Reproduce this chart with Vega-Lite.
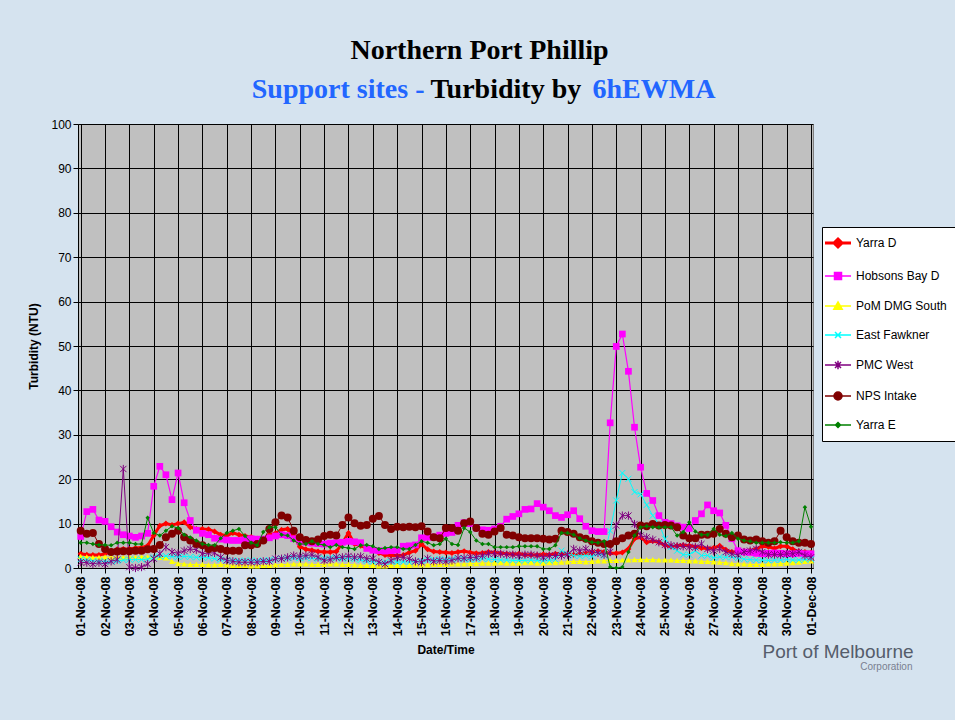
{
  "$schema": "https://vega.github.io/schema/vega-lite/v6.json",
  "autosize": "none",
  "width": 735,
  "height": 444,
  "padding": {"left": 78, "top": 124, "right": 142, "bottom": 152},
  "background": "#d5e3ef",
  "config": {
    "view": {"fill": "#c0c0c0", "stroke": "#808080", "strokeWidth": 1},
    "axis": {"labelFont": "Liberation Sans", "titleFont": "Liberation Sans", "labelColor": "black", "titleColor": "black"}
  },
  "data": {"values": [
    {"t":0,"yd":3.2,"hb":7.1,"pm":2.6,"ef":2.0,"pw":1.3,"np":8.4,"ye":5.7},
    {"t":0.25,"yd":3.0,"hb":12.7,"pm":2.5,"ef":1.8,"pw":1.2,"np":7.7,"ye":5.7},
    {"t":0.5,"yd":2.9,"hb":13.2,"pm":2.4,"ef":1.6,"pw":0.9,"np":7.9,"ye":5.4},
    {"t":0.75,"yd":2.9,"hb":10.8,"pm":2.4,"ef":1.5,"pw":1.2,"np":5.4,"ye":5.2},
    {"t":1,"yd":3.2,"hb":10.5,"pm":2.5,"ef":1.5,"pw":0.9,"np":4.3,"ye":5.2},
    {"t":1.25,"yd":3.8,"hb":9.3,"pm":2.4,"ef":1.5,"pw":1.5,"np":3.6,"ye":5.1},
    {"t":1.5,"yd":4.2,"hb":8.1,"pm":2.5,"ef":1.6,"pw":1.9,"np":3.7,"ye":5.7},
    {"t":1.75,"yd":4.3,"hb":7.5,"pm":2.4,"ef":1.8,"pw":22.3,"np":3.8,"ye":5.7},
    {"t":2,"yd":4.3,"hb":7.2,"pm":2.5,"ef":1.9,"pw":0.2,"np":3.8,"ye":5.7},
    {"t":2.25,"yd":4.5,"hb":6.9,"pm":2.4,"ef":1.9,"pw":0.0,"np":3.9,"ye":5.4},
    {"t":2.5,"yd":4.6,"hb":7.2,"pm":2.5,"ef":1.9,"pw":0.2,"np":3.9,"ye":5.4},
    {"t":2.75,"yd":5.0,"hb":7.8,"pm":2.5,"ef":2.0,"pw":0.9,"np":4.2,"ye":11.3},
    {"t":3,"yd":7.3,"hb":18.4,"pm":2.4,"ef":2.4,"pw":2.1,"np":4.3,"ye":7.9},
    {"t":3.25,"yd":9.5,"hb":22.9,"pm":2.4,"ef":2.6,"pw":3.2,"np":5.2,"ye":7.3},
    {"t":3.5,"yd":10.0,"hb":21.0,"pm":2.3,"ef":2.7,"pw":4.7,"np":6.9,"ye":8.4},
    {"t":3.75,"yd":9.7,"hb":15.4,"pm":1.5,"ef":2.6,"pw":3.6,"np":7.7,"ye":9.4},
    {"t":4,"yd":10.0,"hb":21.4,"pm":1.0,"ef":2.5,"pw":3.3,"np":8.4,"ye":9.0},
    {"t":4.25,"yd":10.3,"hb":14.7,"pm":0.9,"ef":2.6,"pw":3.9,"np":6.9,"ye":7.5},
    {"t":4.5,"yd":9.2,"hb":10.7,"pm":0.8,"ef":2.5,"pw":4.3,"np":6.2,"ye":6.9},
    {"t":4.75,"yd":8.8,"hb":8.5,"pm":0.8,"ef":2.4,"pw":4.1,"np":5.4,"ye":6.2},
    {"t":5,"yd":8.8,"hb":7.8,"pm":0.8,"ef":2.4,"pw":3.2,"np":5.1,"ye":5.4},
    {"t":5.25,"yd":8.7,"hb":7.5,"pm":0.7,"ef":2.3,"pw":3.4,"np":4.3,"ye":5.2},
    {"t":5.5,"yd":8.2,"hb":6.7,"pm":0.7,"ef":2.1,"pw":3.4,"np":4.5,"ye":5.1},
    {"t":5.75,"yd":7.5,"hb":6.5,"pm":0.8,"ef":1.9,"pw":2.4,"np":4.3,"ye":6.7},
    {"t":6,"yd":7.3,"hb":6.3,"pm":0.7,"ef":1.7,"pw":1.7,"np":3.9,"ye":7.9},
    {"t":6.25,"yd":7.9,"hb":6.2,"pm":0.6,"ef":1.7,"pw":1.5,"np":3.9,"ye":8.4},
    {"t":6.5,"yd":7.5,"hb":6.2,"pm":0.6,"ef":1.6,"pw":1.3,"np":3.9,"ye":8.8},
    {"t":6.75,"yd":7.2,"hb":6.4,"pm":0.6,"ef":1.7,"pw":1.3,"np":5.1,"ye":7.2},
    {"t":7,"yd":7.0,"hb":6.6,"pm":0.5,"ef":1.7,"pw":1.3,"np":5.1,"ye":5.7},
    {"t":7.25,"yd":6.6,"hb":6.5,"pm":0.5,"ef":1.6,"pw":1.3,"np":5.4,"ye":5.1},
    {"t":7.5,"yd":6.5,"hb":6.5,"pm":0.6,"ef":1.7,"pw":1.5,"np":6.2,"ye":8.1},
    {"t":7.75,"yd":7.5,"hb":6.8,"pm":0.6,"ef":1.8,"pw":1.5,"np":8.8,"ye":9.2},
    {"t":8,"yd":7.8,"hb":7.2,"pm":0.7,"ef":2.0,"pw":2.1,"np":10.3,"ye":9.2},
    {"t":8.25,"yd":8.6,"hb":7.5,"pm":0.8,"ef":2.2,"pw":2.1,"np":11.8,"ye":7.5},
    {"t":8.5,"yd":8.8,"hb":7.3,"pm":0.8,"ef":2.2,"pw":2.4,"np":11.4,"ye":7.3},
    {"t":8.75,"yd":7.3,"hb":6.6,"pm":0.9,"ef":2.3,"pw":2.8,"np":8.4,"ye":6.2},
    {"t":9,"yd":4.8,"hb":6.0,"pm":0.9,"ef":2.2,"pw":2.6,"np":6.9,"ye":5.4},
    {"t":9.25,"yd":4.2,"hb":5.8,"pm":0.9,"ef":2.3,"pw":2.8,"np":6.3,"ye":5.4},
    {"t":9.5,"yd":4.0,"hb":5.6,"pm":0.8,"ef":2.2,"pw":3.0,"np":6.0,"ye":6.0},
    {"t":9.75,"yd":3.7,"hb":5.5,"pm":0.8,"ef":2.1,"pw":2.4,"np":6.4,"ye":5.4},
    {"t":10,"yd":3.6,"hb":5.4,"pm":0.8,"ef":2.2,"pw":1.7,"np":7.2,"ye":5.2},
    {"t":10.25,"yd":3.6,"hb":5.6,"pm":0.9,"ef":2.3,"pw":1.9,"np":7.5,"ye":4.7},
    {"t":10.5,"yd":3.7,"hb":5.7,"pm":0.9,"ef":2.2,"pw":2.4,"np":7.3,"ye":5.2},
    {"t":10.75,"yd":5.6,"hb":5.8,"pm":0.8,"ef":2.1,"pw":2.4,"np":9.7,"ye":4.7},
    {"t":11,"yd":7.9,"hb":6.0,"pm":0.8,"ef":2.2,"pw":2.7,"np":11.4,"ye":4.5},
    {"t":11.25,"yd":5.4,"hb":5.9,"pm":0.7,"ef":2.0,"pw":2.4,"np":10.1,"ye":4.3},
    {"t":11.5,"yd":5.0,"hb":5.7,"pm":0.6,"ef":1.8,"pw":2.6,"np":9.5,"ye":5.1},
    {"t":11.75,"yd":4.5,"hb":4.4,"pm":0.6,"ef":1.6,"pw":2.1,"np":9.7,"ye":5.2},
    {"t":12,"yd":4.2,"hb":4.0,"pm":0.6,"ef":1.4,"pw":2.1,"np":11.1,"ye":4.9},
    {"t":12.25,"yd":3.4,"hb":3.9,"pm":0.5,"ef":1.3,"pw":1.3,"np":11.7,"ye":4.3},
    {"t":12.5,"yd":2.9,"hb":3.8,"pm":0.5,"ef":1.3,"pw":0.9,"np":9.7,"ye":4.5},
    {"t":12.75,"yd":2.8,"hb":3.9,"pm":0.6,"ef":1.4,"pw":1.7,"np":8.8,"ye":4.7},
    {"t":13,"yd":2.8,"hb":4.0,"pm":0.6,"ef":1.3,"pw":2.4,"np":9.3,"ye":4.7},
    {"t":13.25,"yd":2.9,"hb":4.9,"pm":0.6,"ef":1.4,"pw":2.4,"np":9.2,"ye":4.3},
    {"t":13.5,"yd":3.5,"hb":5.0,"pm":0.6,"ef":1.3,"pw":2.1,"np":9.3,"ye":4.3},
    {"t":13.75,"yd":3.9,"hb":5.2,"pm":0.7,"ef":1.5,"pw":1.5,"np":9.2,"ye":5.2},
    {"t":14,"yd":5.4,"hb":6.8,"pm":0.7,"ef":1.6,"pw":1.3,"np":9.4,"ye":6.0},
    {"t":14.25,"yd":4.2,"hb":6.9,"pm":0.7,"ef":1.8,"pw":2.1,"np":8.2,"ye":5.7},
    {"t":14.5,"yd":3.7,"hb":7.0,"pm":0.8,"ef":1.9,"pw":1.5,"np":6.9,"ye":5.1},
    {"t":14.75,"yd":3.6,"hb":7.4,"pm":0.8,"ef":2.0,"pw":1.7,"np":6.7,"ye":5.4},
    {"t":15,"yd":3.5,"hb":7.8,"pm":0.8,"ef":1.9,"pw":1.5,"np":9.0,"ye":6.6},
    {"t":15.25,"yd":3.4,"hb":8.0,"pm":0.9,"ef":2.0,"pw":1.7,"np":9.0,"ye":5.4},
    {"t":15.5,"yd":3.6,"hb":9.6,"pm":0.9,"ef":2.1,"pw":2.2,"np":8.4,"ye":5.2},
    {"t":15.75,"yd":3.8,"hb":10.2,"pm":0.9,"ef":2.0,"pw":2.2,"np":10.1,"ye":9.0},
    {"t":16,"yd":3.5,"hb":10.0,"pm":1.0,"ef":1.9,"pw":2.4,"np":10.5,"ye":8.1},
    {"t":16.25,"yd":3.3,"hb":9.0,"pm":1.0,"ef":2.0,"pw":2.4,"np":9.0,"ye":6.2},
    {"t":16.5,"yd":3.4,"hb":8.6,"pm":1.1,"ef":2.1,"pw":2.8,"np":7.7,"ye":5.4},
    {"t":16.75,"yd":3.6,"hb":8.5,"pm":1.1,"ef":2.0,"pw":3.2,"np":7.5,"ye":5.4},
    {"t":17,"yd":3.5,"hb":8.8,"pm":1.1,"ef":1.9,"pw":3.2,"np":8.2,"ye":4.7},
    {"t":17.25,"yd":3.3,"hb":9.4,"pm":1.2,"ef":1.8,"pw":3.2,"np":9.0,"ye":4.7},
    {"t":17.5,"yd":3.2,"hb":11.0,"pm":1.1,"ef":1.8,"pw":3.0,"np":7.5,"ye":4.7},
    {"t":17.75,"yd":3.1,"hb":11.6,"pm":1.1,"ef":1.7,"pw":3.0,"np":7.3,"ye":4.7},
    {"t":18,"yd":3.2,"hb":12.2,"pm":1.1,"ef":1.7,"pw":2.8,"np":6.9,"ye":4.9},
    {"t":18.25,"yd":3.0,"hb":13.2,"pm":1.2,"ef":1.7,"pw":3.0,"np":6.7,"ye":4.9},
    {"t":18.5,"yd":3.0,"hb":13.3,"pm":1.2,"ef":1.8,"pw":3.0,"np":6.7,"ye":4.9},
    {"t":18.75,"yd":2.9,"hb":14.5,"pm":1.1,"ef":1.7,"pw":2.8,"np":6.7,"ye":4.9},
    {"t":19,"yd":3.1,"hb":13.7,"pm":1.1,"ef":1.6,"pw":2.4,"np":6.6,"ye":4.3},
    {"t":19.25,"yd":3.0,"hb":12.9,"pm":1.2,"ef":1.7,"pw":2.8,"np":6.4,"ye":4.3},
    {"t":19.5,"yd":3.2,"hb":11.8,"pm":1.2,"ef":1.9,"pw":2.8,"np":6.6,"ye":5.1},
    {"t":19.75,"yd":3.3,"hb":11.4,"pm":1.3,"ef":3.9,"pw":2.8,"np":8.4,"ye":7.9},
    {"t":20,"yd":3.2,"hb":12.0,"pm":1.4,"ef":3.2,"pw":3.0,"np":8.1,"ye":7.9},
    {"t":20.25,"yd":3.0,"hb":12.9,"pm":1.5,"ef":2.8,"pw":4.3,"np":7.7,"ye":7.5},
    {"t":20.5,"yd":3.1,"hb":11.1,"pm":1.5,"ef":2.7,"pw":3.9,"np":6.9,"ye":6.7},
    {"t":20.75,"yd":3.3,"hb":9.4,"pm":1.4,"ef":2.8,"pw":4.3,"np":6.6,"ye":6.2},
    {"t":21,"yd":3.5,"hb":8.4,"pm":1.5,"ef":2.6,"pw":3.6,"np":6.0,"ye":5.8},
    {"t":21.25,"yd":3.8,"hb":8.2,"pm":1.6,"ef":3.2,"pw":3.4,"np":5.7,"ye":5.7},
    {"t":21.5,"yd":3.6,"hb":8.2,"pm":1.6,"ef":2.8,"pw":3.0,"np":5.4,"ye":6.0},
    {"t":21.75,"yd":3.3,"hb":32.7,"pm":1.7,"ef":8.4,"pw":3.6,"np":5.4,"ye":0.2},
    {"t":22,"yd":3.3,"hb":49.9,"pm":1.7,"ef":15.2,"pw":9.6,"np":6.0,"ye":0.0},
    {"t":22.25,"yd":3.5,"hb":52.7,"pm":1.8,"ef":21.4,"pw":11.8,"np":6.7,"ye":0.2},
    {"t":22.5,"yd":4.3,"hb":44.3,"pm":1.8,"ef":20.1,"pw":11.8,"np":7.3,"ye":3.6},
    {"t":22.75,"yd":6.6,"hb":31.7,"pm":1.9,"ef":17.1,"pw":9.9,"np":7.7,"ye":7.3},
    {"t":23,"yd":6.9,"hb":22.7,"pm":1.9,"ef":16.6,"pw":7.3,"np":9.6,"ye":9.2},
    {"t":23.25,"yd":5.8,"hb":16.8,"pm":1.9,"ef":14.2,"pw":6.9,"np":9.4,"ye":9.4},
    {"t":23.5,"yd":6.1,"hb":15.2,"pm":1.9,"ef":11.8,"pw":6.4,"np":9.9,"ye":9.2},
    {"t":23.75,"yd":5.8,"hb":11.8,"pm":1.8,"ef":10.0,"pw":5.8,"np":9.6,"ye":9.2},
    {"t":24,"yd":5.1,"hb":10.3,"pm":1.8,"ef":6.6,"pw":5.2,"np":9.7,"ye":9.2},
    {"t":24.25,"yd":4.9,"hb":10.0,"pm":1.8,"ef":4.7,"pw":5.1,"np":9.6,"ye":9.2},
    {"t":24.5,"yd":5.0,"hb":9.5,"pm":1.7,"ef":3.9,"pw":4.9,"np":9.2,"ye":7.3},
    {"t":24.75,"yd":5.1,"hb":9.2,"pm":1.7,"ef":3.0,"pw":4.9,"np":7.3,"ye":8.1},
    {"t":25,"yd":5.0,"hb":8.9,"pm":1.6,"ef":3.0,"pw":4.7,"np":6.7,"ye":10.3},
    {"t":25.25,"yd":4.8,"hb":10.7,"pm":1.6,"ef":3.9,"pw":4.7,"np":6.7,"ye":8.2},
    {"t":25.5,"yd":4.5,"hb":12.2,"pm":1.5,"ef":2.8,"pw":5.4,"np":7.5,"ye":7.5},
    {"t":25.75,"yd":4.4,"hb":14.2,"pm":1.5,"ef":2.8,"pw":4.3,"np":7.5,"ye":7.5},
    {"t":26,"yd":4.5,"hb":12.9,"pm":1.4,"ef":2.3,"pw":3.9,"np":7.7,"ye":8.8},
    {"t":26.25,"yd":5.0,"hb":12.4,"pm":1.3,"ef":2.5,"pw":4.3,"np":8.8,"ye":7.5},
    {"t":26.5,"yd":4.1,"hb":9.6,"pm":1.2,"ef":2.4,"pw":3.6,"np":7.7,"ye":7.2},
    {"t":26.75,"yd":3.6,"hb":6.6,"pm":1.0,"ef":2.5,"pw":3.2,"np":6.9,"ye":7.9},
    {"t":27,"yd":3.6,"hb":3.9,"pm":0.9,"ef":2.2,"pw":3.0,"np":7.3,"ye":6.6},
    {"t":27.25,"yd":3.8,"hb":3.6,"pm":0.9,"ef":2.0,"pw":3.6,"np":6.4,"ye":6.2},
    {"t":27.5,"yd":3.9,"hb":3.5,"pm":0.8,"ef":1.9,"pw":3.9,"np":6.2,"ye":6.0},
    {"t":27.75,"yd":4.3,"hb":3.3,"pm":0.8,"ef":1.8,"pw":4.3,"np":6.4,"ye":5.7},
    {"t":28,"yd":4.9,"hb":3.2,"pm":0.8,"ef":1.8,"pw":3.6,"np":6.0,"ye":5.7},
    {"t":28.25,"yd":4.8,"hb":3.3,"pm":0.9,"ef":1.7,"pw":3.0,"np":5.7,"ye":5.7},
    {"t":28.5,"yd":4.4,"hb":3.4,"pm":0.9,"ef":1.8,"pw":3.0,"np":6.0,"ye":5.7},
    {"t":28.75,"yd":4.9,"hb":3.3,"pm":1.0,"ef":1.8,"pw":3.0,"np":8.4,"ye":5.8},
    {"t":29,"yd":4.9,"hb":3.2,"pm":1.1,"ef":1.9,"pw":3.2,"np":6.9,"ye":5.7},
    {"t":29.25,"yd":4.2,"hb":3.2,"pm":1.2,"ef":1.8,"pw":3.2,"np":6.0,"ye":5.7},
    {"t":29.5,"yd":3.7,"hb":3.3,"pm":1.3,"ef":1.8,"pw":3.6,"np":5.7,"ye":6.0},
    {"t":29.75,"yd":3.6,"hb":3.2,"pm":1.5,"ef":1.9,"pw":2.8,"np":5.7,"ye":13.7},
    {"t":30,"yd":3.5,"hb":3.2,"pm":1.6,"ef":2.0,"pw":2.4,"np":5.4,"ye":9.3}
  ]},
  "resolve": {"axis": {"x": "independent", "y": "independent"}},
  "layer": [
    {
      "mark": {"type": "line", "strokeWidth": 3, "point": {"shape": "diamond", "size": 36, "filled": true}},
      "encoding": {
        "x": {"field": "t", "type": "quantitative",
          "scale": {"domain": [-0.111, 30.082], "nice": false, "zero": false},
          "axis": {"values": [0,1,2,3,4,5,6,7,8,9,10,11,12,13,14,15,16,17,18,19,20,21,22,23,24,25,26,27,28,29,30],
            "labelExpr": "timeFormat(datetime(2008, 10, 1 + datum.value), '%d-%b-%y')",
            "labelAngle": -90, "labelFontWeight": "bold", "labelFontSize": 12.5, "labelPadding": 3,
            "labelOverlap": false, "labelFlush": false,
            "title": "Date/Time", "titleFontSize": 12, "titleFontWeight": "bold", "titlePadding": 9,
            "grid": true, "gridColor": "black", "gridOpacity": 1, "gridWidth": 1,
            "domainColor": "black", "tickColor": "black", "tickSize": 5}},
        "y": {"field": "yd", "type": "quantitative",
          "scale": {"domain": [0, 100], "nice": false, "zero": true},
          "axis": {"values": [0,10,20,30,40,50,60,70,80,90,100],
            "labelFontSize": 12, "labelPadding": 2,
            "title": "Turbidity (NTU)", "titleFontSize": 12, "titleFontWeight": "bold", "titlePadding": 10,
            "grid": true, "gridColor": "black", "gridOpacity": 1, "gridWidth": 1,
            "domainColor": "black", "tickColor": "black", "tickSize": 5}},
        "color": {"datum": "Yarra D", "type": "nominal",
          "scale": {"domain": ["Yarra D", "Hobsons Bay D", "PoM DMG South", "East Fawkner", "PMC West", "NPS Intake", "Yarra E"],
            "range": ["#ff0000", "#ff00ff", "#ffff00", "#00ffff", "#800080", "#800000", "#008000"]},
          "legend": {"title": null, "orient": "none", "legendX": 744, "legendY": 103, "direction": "vertical",
            "padding": 10, "rowPadding": 16, "symbolSize": 400, "labelOffset": 12,
            "labelFont": "Liberation Sans", "labelFontSize": 12, "labelColor": "black",
            "strokeColor": "black", "fillColor": "white", "cornerRadius": 0,
            "encode": {"symbols": {"update": {
              "shape": {"signal": "datum.value === 'Yarra D' ? 'M-1.3,0H1.3M0,-0.4L0.4,0L0,0.4L-0.4,0Z' : datum.value === 'Hobsons Bay D' ? 'M-1.3,0H1.3M-0.35,-0.35H0.35V0.35H-0.35Z' : datum.value === 'PoM DMG South' ? 'M-1.3,0H1.3M0,-0.4L0.42,0.32H-0.42Z' : datum.value === 'East Fawkner' ? 'M-1.3,0H1.3M-0.3,-0.3L0.3,0.3M-0.3,0.3L0.3,-0.3' : datum.value === 'PMC West' ? 'M-1.3,0H1.3M-0.3,-0.3L0.3,0.3M-0.3,0.3L0.3,-0.3M0,-0.42V0.42' : datum.value === 'NPS Intake' ? 'M-1.3,0H1.3M0.4,0A0.4,0.4,0,1,1,-0.4,0A0.4,0.4,0,1,1,0.4,0Z' : 'M-1.3,0H1.3M0,-0.25L0.25,0L0,0.25L-0.25,0Z'"},
              "fill": {"scale": "color", "field": "value"},
              "stroke": {"scale": "color", "field": "value"},
              "strokeWidth": {"signal": "datum.value === 'Yarra D' ? 3 : 1.5"},
              "size": {"value": 400},
              "opacity": {"value": 1}
            }}}}}
      }
    },
    {
      "mark": {"type": "line", "strokeWidth": 1.2, "point": {"shape": "square", "size": 45, "filled": true}},
      "encoding": {
        "x": {"field": "t", "type": "quantitative",
          "axis": {"orient": "top", "labels": false, "ticks": false, "domain": false, "grid": false,
            "title": "Northern Port Phillip", "titleX": 401, "titleY": -66, "titleAlign": "center", "titleBaseline": "alphabetic",
            "titleAngle": 0, "titleFont": "Liberation Serif", "titleFontSize": 28, "titleFontWeight": "bold", "titleColor": "black"}},
        "y": {"field": "hb", "type": "quantitative", "axis": null},
        "color": {"datum": "Hobsons Bay D", "type": "nominal"}
      }
    },
    {
      "mark": {"type": "line", "strokeWidth": 1, "point": {"shape": "triangle-up", "size": 36, "filled": true}},
      "encoding": {
        "x": {"field": "t", "type": "quantitative",
          "axis": {"orient": "top", "labels": false, "ticks": false, "domain": false, "grid": false,
            "title": "Support sites -", "titleX": 346, "titleY": -27, "titleAlign": "right", "titleBaseline": "alphabetic",
            "titleAngle": 0, "titleFont": "Liberation Serif", "titleFontSize": 28, "titleFontWeight": "bold", "titleColor": "#2266ff"}},
        "y": {"field": "pm", "type": "quantitative", "axis": null},
        "color": {"datum": "PoM DMG South", "type": "nominal"}
      }
    },
    {
      "mark": {"type": "line", "strokeWidth": 1, "point": {"shape": "M-1,-1L1,1M-1,1L1,-1", "size": 36, "filled": false, "strokeWidth": 1}},
      "encoding": {
        "x": {"field": "t", "type": "quantitative",
          "axis": {"orient": "top", "labels": false, "ticks": false, "domain": false, "grid": false,
            "title": "Turbidity by", "titleX": 352, "titleY": -27, "titleAlign": "left", "titleBaseline": "alphabetic",
            "titleAngle": 0, "titleFont": "Liberation Serif", "titleFontSize": 28, "titleFontWeight": "bold", "titleColor": "black"}},
        "y": {"field": "ef", "type": "quantitative", "axis": null},
        "color": {"datum": "East Fawkner", "type": "nominal"}
      }
    },
    {
      "mark": {"type": "line", "strokeWidth": 1, "point": {"shape": "M-1,-1L1,1M-1,1L1,-1M0,-1.3V1.3", "size": 40, "filled": false, "strokeWidth": 1}},
      "encoding": {
        "x": {"field": "t", "type": "quantitative",
          "axis": {"orient": "top", "labels": false, "ticks": false, "domain": false, "grid": false,
            "title": "6hEWMA", "titleX": 514, "titleY": -27, "titleAlign": "left", "titleBaseline": "alphabetic",
            "titleAngle": 0, "titleFont": "Liberation Serif", "titleFontSize": 28, "titleFontWeight": "bold", "titleColor": "#2266ff"}},
        "y": {"field": "pw", "type": "quantitative", "axis": null},
        "color": {"datum": "PMC West", "type": "nominal"}
      }
    },
    {
      "mark": {"type": "line", "strokeWidth": 1, "point": {"shape": "circle", "size": 64, "filled": true}},
      "encoding": {
        "x": {"field": "t", "type": "quantitative", "axis": null},
        "y": {"field": "np", "type": "quantitative",
          "axis": {"orient": "right", "labels": false, "ticks": false, "domain": false, "grid": false,
            "title": "Port of Melbourne", "titleX": -51, "titleY": 533, "titleAlign": "left", "titleBaseline": "alphabetic",
            "titleAngle": 0, "titleFont": "Liberation Sans", "titleFontSize": 19, "titleFontWeight": "normal", "titleColor": "#555d6b"}},
        "color": {"datum": "NPS Intake", "type": "nominal"}
      }
    },
    {
      "mark": {"type": "line", "strokeWidth": 1, "point": {"shape": "diamond", "size": 20, "filled": true}},
      "encoding": {
        "x": {"field": "t", "type": "quantitative", "axis": null},
        "y": {"field": "ye", "type": "quantitative",
          "axis": {"orient": "right", "labels": false, "ticks": false, "domain": false, "grid": false,
            "title": "Corporation", "titleX": 99, "titleY": 545, "titleAlign": "right", "titleBaseline": "alphabetic",
            "titleAngle": 0, "titleFont": "Liberation Sans", "titleFontSize": 10, "titleFontWeight": "normal", "titleColor": "#7a8090"}},
        "color": {"datum": "Yarra E", "type": "nominal"}
      }
    }
  ]
}
